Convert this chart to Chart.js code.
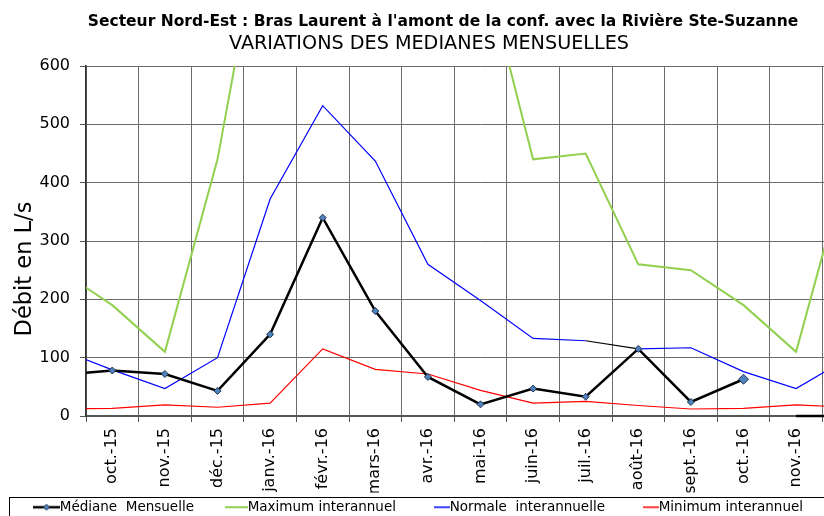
<!DOCTYPE html>
<html>
<head>
<meta charset="utf-8">
<script src="https://cdn.jsdelivr.net/npm/chart.js@4/dist/chart.umd.min.js"></script>
<style>
  html, body { margin: 0; padding: 0; overflow: hidden; background: #fff; }
  canvas { display: block; }
</style>
</head>
<body>
<canvas id="chart" width="900" height="524"></canvas>
<script>
// months (sept.-15 is only there so the lines run in from the left edge)
const months = ['sept.-15', 'oct.-15', 'nov.-15', 'déc.-15', 'janv.-16', 'févr.-16', 'mars-16',
  'avr.-16', 'mai-16', 'juin-16', 'juil.-16', 'août-16', 'sept.-16', 'oct.-16', 'nov.-16', 'déc.-16'];

const medianeMensuelle = [70, 78, 72, 43, 140, 340, 180, 67, 20, 47, 33, 115, 24, 63, 0, 0];
const maximumInterannuel = [250, 190, 110, 440, 930, 1200, 1100, 900, 795, 440, 450, 260, 250, 190, 110, 440];
const normaleInterannuelle = [114, 79, 47, 100, 372, 532, 437, 260, 198, 133, 129, 115, 117, 76, 47, 100];
const minimumInterannuel = [12, 13, 19, 15, 22, 115, 80, 72, 44, 22, 25, 18, 12, 13, 19, 15];

const yTicks = [0, 100, 200, 300, 400, 500, 600];

const chartTitle = "Secteur Nord-Est : Bras Laurent à l'amont de la conf. avec la Rivière Ste-Suzanne";
const chartSubtitle = 'VARIATIONS DES MEDIANES MENSUELLES';
const yTitle = 'Débit en L/s';

const FONT = '"DejaVu Sans", Verdana, sans-serif';
const GREEN = '#92D050';

// legend icons: line ending right at the text, median gets a diamond
function legendIcon(color, width, lineLen, diamond) {
  const c = document.createElement('canvas');
  c.width = 53;
  c.height = 10;
  const g = c.getContext('2d');
  g.strokeStyle = color;
  g.lineWidth = width;
  g.beginPath();
  g.moveTo(53 - lineLen, 5);
  g.lineTo(53, 5);
  g.stroke();
  if (diamond) {
    const cx = 53 - lineLen / 2;
    g.fillStyle = '#4F81BD';
    g.strokeStyle = '#1F3350';
    g.lineWidth = 1;
    g.beginPath();
    g.moveTo(cx, 2); g.lineTo(cx + 3, 5); g.lineTo(cx, 8); g.lineTo(cx - 3, 5);
    g.closePath();
    g.fill();
    g.stroke();
  }
  return c;
}
const legendIcons = [
  legendIcon('#000', 2.5, 27, true),
  legendIcon(GREEN, 2, 23, false),
  legendIcon('#0000FF', 1.5, 16, false),
  legendIcon('#FF0000', 1.5, 16, false)
];

const lastMarked = 13;
const medianRadius = medianeMensuelle.map((v, i) => i > lastMarked ? 0 : (i === lastMarked ? 5 : 3.5));

const textPlugin = {
  id: 'textPlugin',
  afterDraw(chart) {
    const ctx = chart.ctx;
    ctx.save();
    ctx.fillStyle = '#000';
    ctx.textAlign = 'center';
    ctx.textBaseline = 'alphabetic';
    ctx.font = 'bold 15.5px ' + FONT;
    ctx.fillText(chartTitle, 443, 26);
    ctx.font = '19.2px ' + FONT;
    ctx.fillText(chartSubtitle, 429, 49);

    // legend frame
    ctx.strokeStyle = '#000';
    ctx.lineWidth = 1;
    ctx.strokeRect(9.5, 497.5, 1000, 100);

    ctx.translate(31, 269);
    ctx.rotate(-Math.PI / 2);
    ctx.font = '22.5px ' + FONT;
    ctx.fillText(yTitle, 0, 0);
    ctx.restore();
  }
};

const clipArea = { left: 0, top: 0, right: 0, bottom: 4 };

new Chart(document.getElementById('chart'), {
  type: 'line',
  data: {
    labels: months,
    datasets: [
      {
        label: 'Médiane  Mensuelle',
        data: medianeMensuelle,
        borderColor: '#000',
        borderWidth: 2.5,
        pointStyle: 'rectRot',
        pointRadius: medianRadius,
        pointBackgroundColor: '#4F81BD',
        pointBorderColor: '#1F3350',
        pointBorderWidth: 1,
        clip: clipArea,
        segment: {
          borderColor: ctx => ctx.p0DataIndex === lastMarked ? 'rgba(0,0,0,0)' : undefined
        }
      },
      {
        label: 'Maximum interannuel',
        data: maximumInterannuel,
        borderColor: GREEN,
        borderWidth: 2,
        pointRadius: 0,
        clip: clipArea
      },
      {
        label: 'Normale  interannuelle',
        data: normaleInterannuelle,
        borderColor: '#0000FF',
        borderWidth: 1.2,
        pointRadius: 0,
        clip: clipArea,
        segment: {
          borderColor: ctx => ctx.p0DataIndex === 10 ? '#000' : undefined
        }
      },
      {
        label: 'Minimum interannuel',
        data: minimumInterannuel,
        borderColor: '#FF0000',
        borderWidth: 1.2,
        pointRadius: 0,
        clip: clipArea
      }
    ]
  },
  options: {
    responsive: false,
    animation: false,
    layout: {
      padding: { top: 66, left: 6, right: 25, bottom: 0 }
    },
    scales: {
      x: {
        type: 'category',
        min: 'oct.-15',
        max: 'déc.-16',
        offset: true,
        grid: {
          offset: true,
          color: '#6b6b6b',
          tickLength: 6,
          tickColor: '#555'
        },
        border: { color: '#555', width: 2 },
        ticks: {
          autoSkip: false,
          maxRotation: 90,
          minRotation: 90,
          padding: 6,
          color: '#000',
          font: { family: FONT, size: 16 }
        },
        afterFit: scale => { scale.height = 76.5; }
      },
      y: {
        min: 0,
        max: 600,
        afterBuildTicks: scale => { scale.ticks = yTicks.map(v => ({ value: v })); },
        grid: {
          color: '#6b6b6b',
          tickLength: 6,
          tickColor: '#555'
        },
        border: { color: '#333', width: 1.5 },
        ticks: {
          padding: 10,
          color: '#000',
          font: { family: FONT, size: 16 }
        },
        afterFit: scale => { scale.width = 80; }
      }
    },
    plugins: {
      title: { display: false },
      tooltip: { enabled: false },
      legend: {
        position: 'bottom',
        align: 'start',
        labels: {
          usePointStyle: true,
          pointStyleWidth: 39,
          padding: 8,
          color: '#000',
          font: { family: FONT, size: 13.5 },
          generateLabels: chart => Chart.defaults.plugins.legend.labels.generateLabels(chart)
            .map((item, i) => ({ ...item, pointStyle: legendIcons[i] }))
        }
      }
    }
  },
  plugins: [textPlugin]
});
</script>
</body>
</html>
